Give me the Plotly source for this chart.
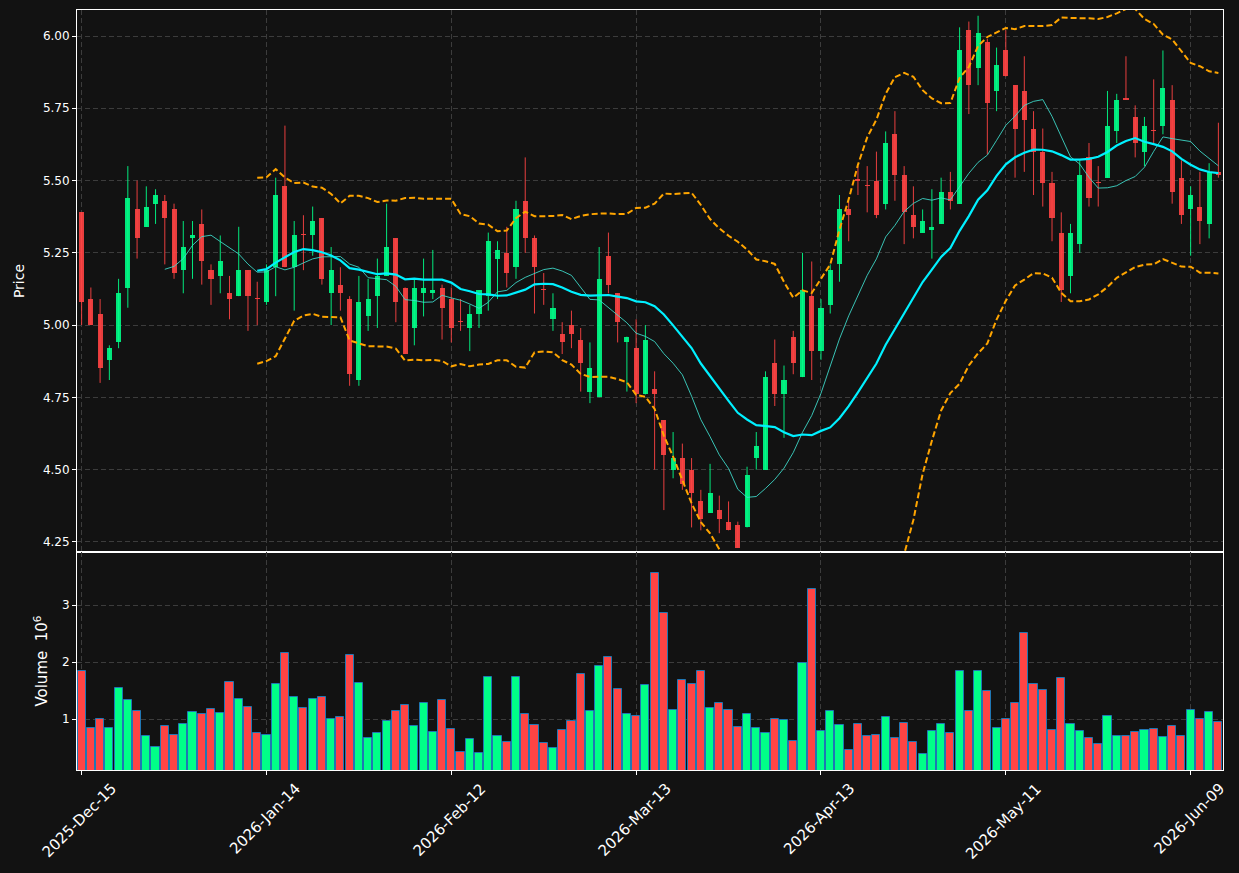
import plotly.graph_objects as go
from plotly.subplots import make_subplots
import pandas as pd

# ---------------- data ----------------
opens = [5.39, 5.09, 5.04, 4.88, 4.94, 5.13, 5.40, 5.34, 5.42, 5.43,
         5.40, 5.19, 5.30, 5.35, 5.19, 5.17, 5.11, 5.10, 5.19, 5.093,
         5.08, 5.20, 5.48, 5.20, 5.313, 5.31, 5.37, 5.11, 5.14, 5.09,
         4.81, 5.03, 5.10, 5.17, 5.30, 5.13, 4.99, 5.11, 5.11, 5.13,
         5.09, 5.011, 4.99, 5.04, 5.10, 5.23, 5.25, 5.20, 5.43, 5.30,
         5.123, 5.02, 4.97, 5.00, 4.95, 4.77, 4.75, 5.24, 5.11, 4.94,
         4.92, 4.76, 4.78, 4.67, 4.50, 4.54, 4.50, 4.39, 4.35, 4.36,
         4.32, 4.31, 4.30, 4.54, 4.50, 4.87, 4.76, 4.96, 4.82, 5.10,
         4.91, 5.07, 5.21, 5.40, 5.503, 5.483, 5.50, 5.42, 5.66, 5.52,
         5.38, 5.32, 5.33, 5.35, 5.46, 5.42, 6.02, 5.89, 5.98, 5.81,
         5.95, 5.83, 5.81, 5.68, 5.60, 5.49, 5.32, 5.17, 5.28, 5.58,
         5.494, 5.51, 5.67, 5.784, 5.72, 5.60, 5.673, 5.69, 5.78, 5.51,
         5.40, 5.41, 5.35, 5.53]
highs = [5.39, 5.13, 5.09, 4.93, 5.16, 5.55, 5.50, 5.48, 5.47, 5.45,
         5.42, 5.36, 5.36, 5.40, 5.21, 5.31, 5.17, 5.34, 5.19, 5.15,
         5.21, 5.51, 5.69, 5.36, 5.38, 5.41, 5.37, 5.27, 5.20, 5.10,
         5.17, 5.16, 5.23, 5.42, 5.30, 5.13, 5.16, 5.23, 5.26, 5.14,
         5.13, 5.09, 5.07, 5.12, 5.32, 5.29, 5.34, 5.43, 5.58, 5.31,
         5.18, 5.11, 5.01, 5.05, 4.99, 4.94, 5.27, 5.32, 5.11, 4.96,
         5.02, 5.00, 4.84, 4.67, 4.63, 4.59, 4.54, 4.43, 4.52, 4.41,
         4.39, 4.32, 4.51, 4.63, 4.84, 4.95, 4.86, 4.98, 5.25, 5.22,
         5.09, 5.21, 5.45, 5.43, 5.55, 5.55, 5.60, 5.67, 5.74, 5.55,
         5.48, 5.40, 5.47, 5.51, 5.53, 6.03, 6.05, 6.07, 5.99, 5.96,
         6.02, 5.83, 5.93, 5.74, 5.68, 5.53, 5.39, 5.35, 5.57, 5.63,
         5.55, 5.81, 5.80, 5.93, 5.76, 5.72, 5.85, 5.95, 5.83, 5.57,
         5.48, 5.53, 5.56, 5.70]
lows = [5.00, 5.00, 4.80, 4.81, 4.92, 5.06, 5.23, 5.34, 5.35, 5.21,
        5.16, 5.11, 5.16, 5.14, 5.07, 5.11, 5.02, 5.10, 4.98, 5.00,
        5.07, 5.10, 5.20, 5.05, 5.19, 5.24, 5.14, 5.00, 5.05, 4.79,
        4.79, 4.98, 4.99, 5.17, 5.01, 4.90, 4.93, 5.03, 5.09, 4.95,
        4.94, 4.98, 4.91, 4.99, 5.05, 5.09, 5.13, 5.16, 5.25, 5.04,
        5.07, 4.98, 4.90, 4.92, 4.77, 4.73, 4.75, 5.11, 4.94, 4.77,
        4.73, 4.76, 4.50, 4.36, 4.47, 4.43, 4.30, 4.29, 4.35, 4.28,
        4.29, 4.23, 4.30, 4.50, 4.50, 4.72, 4.61, 4.83, 4.82, 4.81,
        4.88, 5.04, 5.15, 5.29, 5.45, 5.39, 5.37, 5.40, 5.43, 5.28,
        5.30, 5.32, 5.23, 5.35, 5.40, 5.42, 5.73, 5.83, 5.59, 5.74,
        5.86, 5.51, 5.53, 5.45, 5.41, 5.29, 5.08, 5.11, 5.25, 5.41,
        5.41, 5.51, 5.63, 5.78, 5.58, 5.55, 5.63, 5.66, 5.42, 5.35,
        5.24, 5.28, 5.30, 5.51]
closes = [5.08, 5.00, 4.85, 4.92, 5.11, 5.44, 5.30, 5.41, 5.45, 5.37,
          5.18, 5.27, 5.31, 5.22, 5.16, 5.22, 5.09, 5.19, 5.10, 5.090,
          5.19, 5.45, 5.20, 5.31, 5.310, 5.36, 5.16, 5.19, 5.11, 4.83,
          5.08, 5.09, 5.17, 5.27, 5.08, 4.90, 5.13, 5.13, 5.12, 5.06,
          4.99, 5.010, 5.04, 5.12, 5.29, 5.26, 5.18, 5.40, 5.30, 5.20,
          5.120, 5.06, 4.94, 4.97, 4.87, 4.85, 5.16, 5.14, 5.01, 4.96,
          4.76, 4.95, 4.76, 4.55, 4.54, 4.45, 4.42, 4.33, 4.42, 4.33,
          4.29, 4.23, 4.48, 4.58, 4.82, 4.76, 4.81, 4.87, 5.12, 4.91,
          5.06, 5.19, 5.40, 5.38, 5.500, 5.480, 5.38, 5.63, 5.52, 5.39,
          5.34, 5.36, 5.34, 5.46, 5.43, 5.95, 5.83, 6.01, 5.77, 5.90,
          5.86, 5.68, 5.71, 5.60, 5.49, 5.37, 5.12, 5.32, 5.52, 5.44,
          5.490, 5.69, 5.78, 5.780, 5.63, 5.69, 5.670, 5.82, 5.46, 5.38,
          5.45, 5.36, 5.53, 5.52]
volumes = [1.842, 0.842, 1.000, 0.842, 1.544, 1.333, 1.140, 0.702, 0.509, 0.877,
           0.725, 0.918, 1.123, 1.088, 1.175, 1.105, 1.649, 1.351, 1.211, 0.754,
           0.719, 1.614, 2.158, 1.386, 1.193, 1.351, 1.386, 1.000, 1.035, 2.123,
           1.632, 0.667, 0.754, 0.965, 1.140, 1.246, 0.877, 1.281, 0.772, 1.333,
           0.825, 0.421, 0.649, 0.404, 1.737, 0.702, 0.596, 1.737, 1.088, 0.895,
           0.579, 0.491, 0.807, 0.965, 1.789, 1.140, 1.930, 2.088, 1.526, 1.088,
           1.053, 1.596, 3.561, 2.860, 1.158, 1.684, 1.614, 1.842, 1.193, 1.281,
           1.158, 0.860, 1.088, 0.842, 0.754, 1.000, 0.982, 0.614, 1.982, 3.281,
           0.789, 1.140, 0.895, 0.456, 0.912, 0.702, 0.719, 1.035, 0.667, 0.930,
           0.596, 0.386, 0.789, 0.912, 0.754, 1.842, 1.140, 1.842, 1.491, 0.842,
           1.000, 1.281, 2.509, 1.614, 1.509, 0.807, 1.719, 0.912, 0.789, 0.667,
           0.561, 1.053, 0.702, 0.702, 0.772, 0.807, 0.825, 0.684, 0.877, 0.702,
           1.158, 1.000, 1.123, 0.947]
tick_labels = ["2025-Dec-15", "2026-Jan-14", "2026-Feb-12", "2026-Mar-13",
               "2026-Apr-13", "2026-May-11", "2026-Jun-09"]
tick_every = 20
price_ticks = [4.25, 4.50, 4.75, 5.00, 5.25, 5.50, 5.75, 6.00]
volume_ticks = [1, 2, 3]

# ---------------- derived series ----------------
n = len(closes)
idx = list(range(n))
cs = pd.Series(closes)
ma_short = cs.rolling(10).mean()
ma_long = cs.rolling(20).mean()
sd = cs.rolling(20).std(ddof=0)
bb_up = ma_long + 2 * sd
bb_lo = ma_long - 2 * sd

UP_C = "rgba(0,255,136,0.9)"
DN_C = "rgba(255,68,68,0.9)"
UP_V = "#00ff88"
DN_V = "#ff4444"
is_up = [c >= o for o, c in zip(opens, closes)]

body_base = [min(o, c) for o, c in zip(opens, closes)]
body_h = [max(abs(c - o), 0.004) for o, c in zip(opens, closes)]
body_col = [UP_C if u else DN_C for u in is_up]

def wick_xy(flag):
    xs, ys = [], []
    for i in idx:
        if is_up[i] == flag:
            xs += [i, i, None]
            ys += [lows[i], highs[i], None]
    return xs, ys

fig = make_subplots(rows=2, cols=1, shared_xaxes=True, vertical_spacing=0,
                    row_heights=[542 / 760, 218 / 760])

for flag, col in [(True, UP_C), (False, DN_C)]:
    wx, wy = wick_xy(flag)
    fig.add_trace(go.Scatter(x=wx, y=wy, mode="lines",
                             line=dict(color=col, width=1),
                             hoverinfo="skip"), row=1, col=1)

fig.add_trace(go.Bar(x=idx, y=body_h, base=body_base, width=0.55,
                     marker=dict(color=body_col, line=dict(width=0))),
              row=1, col=1)

fig.add_trace(go.Scatter(x=idx, y=ma_short, mode="lines",
                         line=dict(color="rgba(64,224,208,0.85)", width=1)),
              row=1, col=1)
fig.add_trace(go.Scatter(x=idx, y=ma_long, mode="lines",
                         line=dict(color="#00f0ff", width=2.2)),
              row=1, col=1)
for band in (bb_up, bb_lo):
    fig.add_trace(go.Scatter(x=idx, y=band, mode="lines",
                             line=dict(color="#ffa500", width=2, dash="6px,3px")),
                  row=1, col=1)

fig.add_trace(go.Bar(x=idx, y=volumes, width=0.88,
                     marker=dict(color=[UP_V if u else DN_V for u in is_up],
                                 line=dict(color="#1f77b4", width=1))),
              row=2, col=1)

axis_common = dict(showline=True, linecolor="white", linewidth=1, mirror=True,
                   showgrid=True, gridcolor="#3c3c3c", gridwidth=1,
                   griddash="5px,3px", zeroline=False,
                   tickcolor="white", ticklen=4, ticks="outside",
                   tickfont=dict(color="white", size=12))

tick_pos = [k * tick_every for k in range(len(tick_labels))]
fig.update_xaxes(range=[-0.5, n - 0.5], tickvals=tick_pos,
                 showticklabels=False, **axis_common)
fig.update_xaxes(ticks="", row=1, col=1)

# centred, 45-degree rotated date labels below the volume panel
for pos, lab in zip(tick_pos, tick_labels):
    fig.add_annotation(x=pos - 0.2, xref="x2", y=-7 / 760, yref="paper",
                       text=lab, textangle=-45, showarrow=False,
                       xanchor="center", yanchor="top",
                       font=dict(color="white", size=15, family="DejaVu Sans"))

fig.update_yaxes(range=[4.215, 6.09], tickvals=price_ticks,
                 ticktext=[f"{v:.2f}" for v in price_ticks],
                 title=dict(text="Price", font=dict(color="white", size=14), standoff=14),
                 row=1, col=1, **axis_common)
fig.update_yaxes(range=[0.11, 3.935], tickvals=volume_ticks,
                 ticktext=[str(v) for v in volume_ticks],
                 title=dict(text="Volume  10<sup>6</sup>", font=dict(color="white", size=15), standoff=10),
                 row=2, col=1, **axis_common)

fig.update_layout(width=1239, height=873,
                  margin=dict(l=77, r=16, t=10, b=103),
                  paper_bgcolor="#121212", plot_bgcolor="#121212",
                  font=dict(family="DejaVu Sans", color="white", size=13),
                  showlegend=False, barmode="overlay", bargap=0)

fig.write_html("out.html")
